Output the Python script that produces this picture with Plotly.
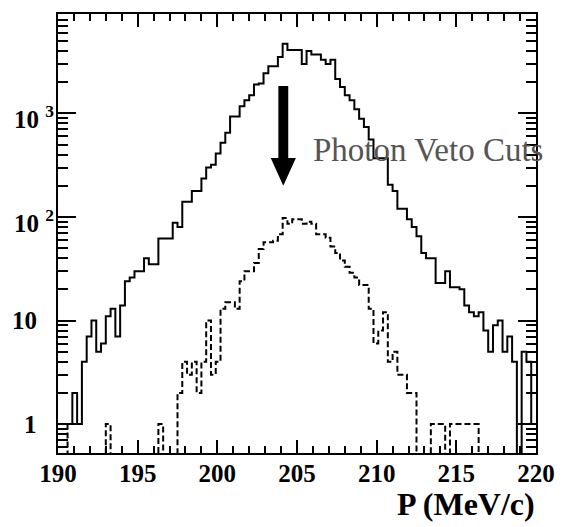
import math
import plotly.graph_objects as go

# ---------------- data ----------------
bin_lo = 190.0
bin_width = 0.3
n_bins = 100

# Before photon veto cuts (solid histogram), counts per 0.3 MeV/c bin
before_cuts = [1, 1, 1, 2, 1, 4, 7, 10, 5, 6,
               11, 13, 7, 14, 24, 26, 30, 30, 40, 35,
               35, 62, 62, 62, 88, 80, 140, 140, 178, 178,
               235, 300, 320, 410, 520, 650, 935, 935, 1170, 1340,
               1500, 1900, 1950, 2440, 2850, 2850, 3500, 4700, 4100, 4100,
               4100, 3000, 4000, 3700, 3700, 3300, 3000, 3300, 2150, 1800,
               1500, 1340, 1100, 890, 740, 560, 370, 370, 370, 205,
               178, 120, 120, 95, 80, 65, 45, 40, 40, 23,
               23, 30, 21, 21, 20, 14, 12, 11, 12, 8,
               5, 9, 10, 5, 7, 4, 0, 5, 4, 1]

# After photon veto cuts (dashed histogram)
after_cuts = [1, 1, 0, 0, 0, 0, 0, 0, 0, 0,
              1, 0, 0, 0, 0, 0, 0, 0, 0, 0,
              0, 1, 0, 0, 0, 2, 4, 3, 4, 2,
              4, 10, 3, 4, 13, 15, 15, 13, 24, 30,
              30, 36, 49, 57, 57, 59, 68, 98, 86, 95,
              95, 86, 90, 86, 68, 68, 63, 52, 45, 38,
              33, 29, 26, 22, 22, 13, 6, 8, 12, 4,
              5, 3, 3, 2, 2, 0, 0, 0, 1, 1,
              1, 0, 1, 1, 1, 1, 1, 1, 0, 0,
              0, 0, 0, 0, 0, 0, 0, 0, 0, 0]

x_tickvals = [190, 195, 200, 205, 210, 215, 220]
y_tickvals = [1, 10, 100, 1000]
y_ticktext = ["1", "10", "10 <sup>2</sup>", "10 <sup>3</sup>"]

# ---------------- helpers ----------------
edges = [bin_lo + bin_width * i for i in range(n_bins + 1)]
FLOOR = 0.01  # empty bins drop below the visible log range


def step_y(vals):
    ys = [v if v > 0 else FLOOR for v in vals]
    return ys + [ys[-1]]


fig = go.Figure()
fig.add_trace(go.Scatter(x=edges, y=step_y(before_cuts), mode="lines",
                         line=dict(shape="hv", color="black", width=2),
                         showlegend=False, hoverinfo="skip"))
fig.add_trace(go.Scatter(x=edges, y=step_y(after_cuts), mode="lines",
                         line=dict(shape="hv", color="black", width=2, dash="6px,3px"),
                         showlegend=False, hoverinfo="skip"))

serif = "Liberation Serif"
label_font = dict(family=serif, size=25, weight="bold", color="black")

minor_y = [m * 10 ** d for d in range(-1, 4) for m in range(2, 10)]

fig.update_layout(
    width=567, height=527,
    margin=dict(l=58, r=23, t=13, b=74),
    paper_bgcolor="white", plot_bgcolor="white",
    font=dict(family=serif, color="black"),
    xaxis=dict(range=[190, 220], showgrid=False, zeroline=False,
               showline=True, linecolor="black", linewidth=2, mirror="ticks",
               ticks="inside", ticklen=13, tickwidth=2, tickcolor="black",
               tickvals=x_tickvals,
               tickfont=label_font,
               ticklabelstandoff=-3,
               minor=dict(dtick=1, ticks="inside", ticklen=7, tickwidth=2,
                          tickcolor="black", showgrid=False)),
    yaxis=dict(type="log", range=[-0.279, 3.96], showgrid=False, zeroline=False,
               showline=True, linecolor="black", linewidth=2, mirror="ticks",
               ticks="inside", ticklen=18, tickwidth=2, tickcolor="black",
               tickvals=y_tickvals, showticklabels=False,
               minor=dict(tickvals=minor_y, ticks="inside", ticklen=10, tickwidth=2,
                          tickcolor="black", showgrid=False)),
)

# Y tick labels placed as annotations (superscripts sit right of the base)
plot_w = 486.0
for v, t in zip(y_tickvals, y_ticktext):
    has_sup = "<sup>" in t
    right_px = 56 if has_sup else 39
    fig.add_annotation(text=t, xref="paper", yref="y",
                       x=(right_px - 58) / plot_w, y=math.log10(v),
                       xanchor="right", yanchor="middle", showarrow=False,
                       yshift=-4 if has_sup else 0,
                       font=label_font)

# X axis title
fig.add_annotation(text="P (MeV/c)", xref="paper", yref="paper",
                   x=1.0, y=-0.073, xanchor="right", yanchor="top",
                   showarrow=False, borderpad=0,
                   font=dict(family=serif, size=32, weight="bold", color="black"))

# Label for the arrow
fig.add_annotation(text="Photon Veto Cuts", xref="x", yref="paper",
                   x=205.85, y=0.69, xanchor="left", yanchor="middle",
                   showarrow=False,
                   font=dict(family=serif, size=33, color="#555555"))

# Arrow: shaft + head (x in data units, y in paper units)
fig.add_shape(type="rect", xref="x", yref="paper",
              x0=203.83, x1=204.45, y0=0.665, y1=0.836,
              fillcolor="black", line=dict(width=0))
fig.add_shape(type="path", xref="x", yref="paper",
              path="M 203.35 0.672 L 204.93 0.672 L 204.14 0.609 Z",
              fillcolor="black", line=dict(width=0))

fig.write_html("out.html")
